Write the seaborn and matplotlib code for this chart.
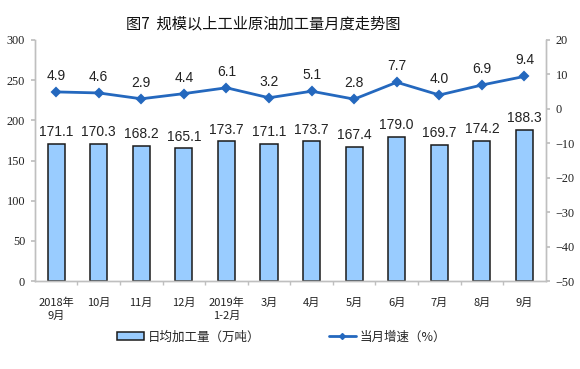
import matplotlib
matplotlib.use("Agg")
import matplotlib.pyplot as plt
import seaborn as sns
import pandas as pd
from matplotlib.patches import Patch
from matplotlib.lines import Line2D

categories = ["2018年\n9月", "10月", "11月", "12月", "2019年\n1-2月", "3月", "4月", "5月", "6月", "7月", "8月", "9月"]
volume = [171.1, 170.3, 168.2, 165.1, 173.7, 171.1, 173.7, 167.4, 179.0, 169.7, 174.2, 188.3]
growth = [4.9, 4.6, 2.9, 4.4, 6.1, 3.2, 5.1, 2.8, 7.7, 4.0, 6.9, 9.4]
left_ticks = [0, 50, 100, 150, 200, 250, 300]
right_ticks = [-50, -40, -30, -20, -10, 0, 10, 20]
title = "图7  规模以上工业原油加工量月度走势图"
bar_label = "日均加工量（万吨）"
line_label = "当月增速（%）"

sns.set_theme(style="white")
plt.rcParams['font.family'] = ['Noto Sans CJK SC', 'DejaVu Sans']

df = pd.DataFrame({"cat": categories, "vol": volume, "g": growth})

fig = plt.figure(figsize=(5.8, 3.69), dpi=100)
ax = fig.add_axes([0.060, 0.238, 0.881, 0.654])

bar_color = "#99CCFF"
line_color = "#2468BE"
axis_gray = "#BFBFBF"

sns.barplot(data=df, x="cat", y="vol", ax=ax, color=bar_color, width=0.4,
            edgecolor="#1a1a1a", linewidth=1.1, saturation=1)
ax.set_ylim(0, 300)
ax.set_yticks(left_ticks)
ax.set_xlabel("")
ax.set_ylabel("")
for i, v in enumerate(volume):
    ax.text(i, v + 6, f"{v:.1f}", ha="center", va="bottom", fontsize=10,
            family="Liberation Sans", color="#222222")

ax2 = ax.twinx()
sns.pointplot(data=df, x="cat", y="g", ax=ax2, color=line_color, markers="D",
              markersize=4, linewidth=2)
ax2.set_ylim(-50, 20)
ax2.set_yticks(right_ticks)
ax2.set_xlabel("")
ax2.set_ylabel("")
for i, g in enumerate(growth):
    ax2.text(i, g + 2.6, f"{g:.1f}", ha="center", va="bottom", fontsize=10,
             family="Liberation Sans", color="#222222")
ax2.set_xlim(-0.5, len(categories) - 0.5)

for a in (ax, ax2):
    a.spines["top"].set_visible(False)
    for s in ["left", "right", "bottom"]:
        a.spines[s].set_color(axis_gray)
        a.spines[s].set_linewidth(1)
    a.grid(False)

ax.tick_params(axis="y", left=True, length=3, color=axis_gray, labelsize=8.8,
               pad=4, labelcolor="#222222")
for t in ax.get_yticklabels():
    t.set_family("Liberation Serif")
ax2.tick_params(axis="y", right=True, length=3, color=axis_gray, labelsize=8.8,
                pad=4, labelcolor="#222222")
for t in ax2.get_yticklabels():
    t.set_family("Liberation Serif")

ax.set_xticks(range(len(categories)))
ax.set_xticklabels(categories, fontsize=8, linespacing=1.3, color="#222222")
ax.set_xticks([i + 0.5 for i in range(len(categories) - 1)], minor=True)
ax.tick_params(axis="x", which="major", bottom=False, pad=6)
ax.tick_params(axis="x", which="minor", bottom=True, length=3, color=axis_gray)

fig.text(0.454, 0.935, title, ha="center", va="center", fontsize=11,
         fontweight="medium", color="#111111")

h1 = Patch(facecolor=bar_color, edgecolor="#1a1a1a", linewidth=1.1)
h2 = Line2D([0], [0], color=line_color, lw=2, marker="D", markersize=3)
fig.legend([h1], [bar_label], loc="center", bbox_to_anchor=(0.325, 0.087),
           frameon=False, fontsize=9, handlelength=2.2, handleheight=0.6, handletextpad=0.3)
fig.legend([h2], [line_label], loc="center", bbox_to_anchor=(0.668, 0.087),
           frameon=False, fontsize=9, handlelength=2.2, handletextpad=0.3)

fig.savefig("out.png", dpi=100)
